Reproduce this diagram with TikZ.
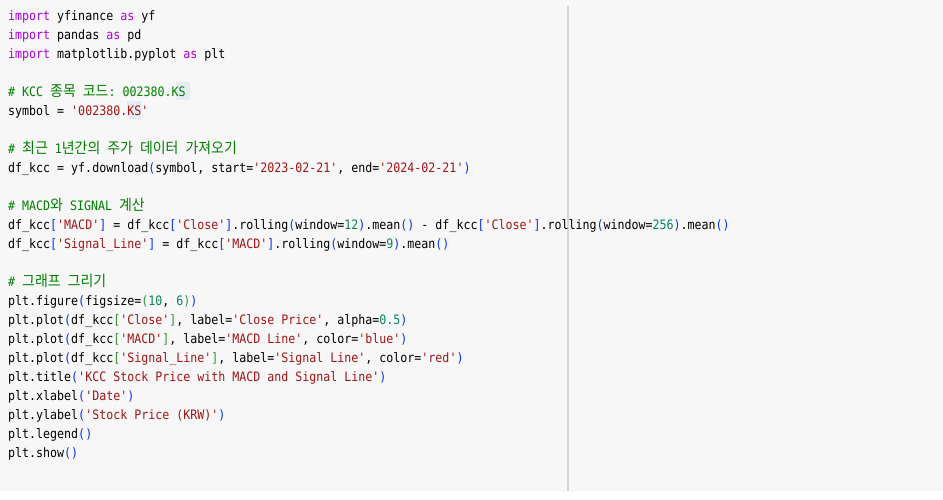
\documentclass[tikz,border=0pt]{standalone}
\usepackage{fontspec}
\usepackage{tikz}
\setmonofont{DejaVu Sans Mono}[FakeStretch=0.895]
\newfontfamily\krfont{Noto Sans CJK KR}[FakeStretch=0.93]
\definecolor{codebg}{HTML}{F7F7F7}
\definecolor{kwpurple}{HTML}{AF00DB}
\definecolor{cmtgreen}{HTML}{008000}
\definecolor{strred}{HTML}{A31515}
\definecolor{nmbgreen}{HTML}{098658}
\definecolor{brblue}{HTML}{0431FA}
\definecolor{brgreen}{HTML}{319331}
\definecolor{hlblue}{HTML}{E6ECF3}
\definecolor{divgray}{HTML}{D4D4D4}
\newcommand\kw[1]{\textcolor{kwpurple}{#1}}
\newcommand\cmt[1]{\textcolor{cmtgreen}{#1}}
\newcommand\strg[1]{\textcolor{strred}{#1}}
\newcommand\nmb[1]{\textcolor{nmbgreen}{#1}}
\newcommand\bA[1]{\textcolor{brblue}{#1}}
\newcommand\bB[1]{\textcolor{brgreen}{#1}}
\newcommand\kr[1]{{\krfont\fontsize{15}{19}\selectfont#1}}

\begin{document}
\begin{tikzpicture}[x=1pt,y=-1pt]
	\tikzset{code/.style={anchor=base west, inner sep=0pt, font=\ttfamily\fontsize{13}{19}\selectfont}}
	\def \lx {8}
	\useasboundingbox (0,0) rectangle (943,499);
	\fill[codebg] (0,0) rectangle (943,491);
	\draw[divgray, line width=1.5pt] (568,6) -- (568,491);
	% match highlight
	\fill[hlblue] (176,82) rectangle (190,100);
	\fill[hlblue] (127,101) rectangle (141,119);
	
	\node[code] (l1) at (\lx,20) {\kw{import} yfinance \kw{as} yf};
	\node[code] (l2) at (\lx,39) {\kw{import} pandas \kw{as} pd};
	\node[code] (l3) at (\lx,58) {\kw{import} matplotlib.pyplot \kw{as} plt};
	
	\node[code] (l5) at (\lx,96) {\cmt{\# KCC \kr{종목} \kr{코드}: 002380.KS}};
	\node[code] (l6) at (\lx,115) {symbol = \strg{'002380.KS'}};
	
	\node[code] (l8) at (\lx,153) {\cmt{\# \kr{최근} 1\kr{년간의} \kr{주가} \kr{데이터} \kr{가져오기}}};
	\node[code] (l9) at (\lx,172) {df\_kcc = yf.download\bA{(}symbol, start=\strg{'2023-02-21'}, end=\strg{'2024-02-21'}\bA{)}};
	
	\node[code] (l11) at (\lx,210) {\cmt{\# MACD\kr{와} SIGNAL \kr{계산}}};
	\node[code] (l12) at (\lx,229) {df\_kcc\bA{[}\strg{'MACD'}\bA{]} = df\_kcc\bA{[}\strg{'Close'}\bA{]}.rolling\bA{(}window=\nmb{12}\bA{)}.mean\bA{()} - df\_kcc\bA{[}\strg{'Close'}\bA{]}.rolling\bA{(}window=\nmb{256}\bA{)}.mean\bA{()}};
	\node[code] (l13) at (\lx,248) {df\_kcc\bA{[}\strg{'Signal\_Line'}\bA{]} = df\_kcc\bA{[}\strg{'MACD'}\bA{]}.rolling\bA{(}window=\nmb{9}\bA{)}.mean\bA{()}};
	
	\node[code] (l15) at (\lx,286) {\cmt{\# \kr{그래프} \kr{그리기}}};
	\node[code] (l16) at (\lx,305) {plt.figure\bA{(}figsize=\bB{(}\nmb{10}, \nmb{6}\bB{)}\bA{)}};
	\node[code] (l17) at (\lx,324) {plt.plot\bA{(}df\_kcc\bB{[}\strg{'Close'}\bB{]}, label=\strg{'Close Price'}, alpha=\nmb{0.5}\bA{)}};
	\node[code] (l18) at (\lx,343) {plt.plot\bA{(}df\_kcc\bB{[}\strg{'MACD'}\bB{]}, label=\strg{'MACD Line'}, color=\strg{'blue'}\bA{)}};
	\node[code] (l19) at (\lx,362) {plt.plot\bA{(}df\_kcc\bB{[}\strg{'Signal\_Line'}\bB{]}, label=\strg{'Signal Line'}, color=\strg{'red'}\bA{)}};
	\node[code] (l20) at (\lx,381) {plt.title\bA{(}\strg{'KCC Stock Price with MACD and Signal Line'}\bA{)}};
	\node[code] (l21) at (\lx,400) {plt.xlabel\bA{(}\strg{'Date'}\bA{)}};
	\node[code] (l22) at (\lx,419) {plt.ylabel\bA{(}\strg{'Stock Price (KRW)'}\bA{)}};
	\node[code] (l23) at (\lx,438) {plt.legend\bA{()}};
	\node[code] (l24) at (\lx,457) {plt.show\bA{()}};
\end{tikzpicture}
\end{document}
